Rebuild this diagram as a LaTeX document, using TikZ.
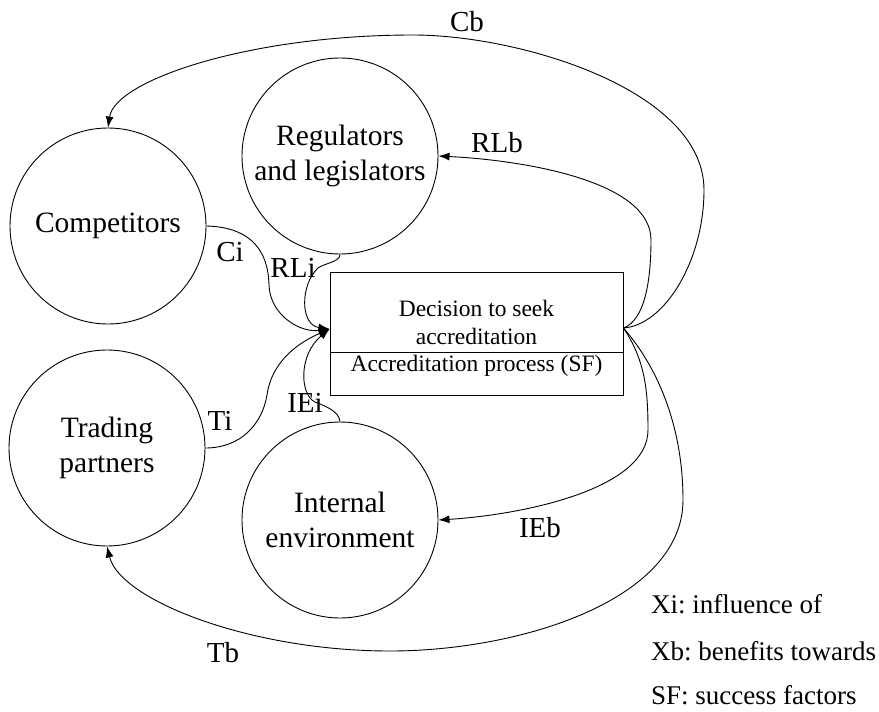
\documentclass[tikz,border=0pt]{standalone}
\usepackage{fontspec}
\setmainfont{Liberation Serif}
\usetikzlibrary{arrows.meta,positioning}
\frenchspacing

\begin{document}
\begin{tikzpicture}[x=1pt,y=1pt,yscale=-1,
  actor/.style={circle, draw, line width=0.9pt, minimum size=196pt, inner sep=0pt, align=center, font=\fontsize{29.5}{35}\selectfont},
  lbl/.style={inner sep=0.75pt, font=\fontsize{29}{34}\selectfont},
  boxtxt/.style={inner sep=0pt, align=center, font=\fontsize{23.5}{28}\selectfont},
  link/.style={line width=0.9pt, -{Latex[length=11pt,width=8pt]}},
  key/.style={anchor=west, inner sep=0pt, font=\fontsize{27}{30}\selectfont}]
\useasboundingbox (0,0) rectangle (879,712);

%Shape: Circle
\node [actor] (comp) at (108,226) {Competitors};
%Shape: Circle
\node [actor] (regl) at (340,156) {Regulators\\and legislators};
%Shape: Circle
\node [actor] (trad) at (107,448) {Trading\\partners};
%Shape: Circle
\node [actor] (intl) at (340,520) {Internal\\environment};

%Shape: Rectangle
\node [draw, line width=0.9pt, minimum width=293pt, minimum height=123pt, inner sep=0pt] (box) at (476.5,333.5) {};
%Straight Lines
\draw [line width=0.9pt] (box.west |- 0,352) -- (box.east |- 0,352);
\coordinate (in) at ([yshift=-4.5pt]box.west);
\coordinate (out) at ([yshift=-5.5pt]box.east);

% Text Node
\node [boxtxt] (dec) at (476.5,322) {Decision to seek\\accreditation};
% Text Node
\node [boxtxt] (proc) at (476.5,366) {Accreditation process (SF)};

%Curve Lines
\draw [link] (comp.east) .. controls (245,227) and (268,245) .. (269,285) .. controls (270,315) and (300,333) .. (in);
%Curve Lines
\draw [link] (regl.south) .. controls (340,262) and (325,263) .. (318,268) .. controls (300,285) and (300,325) .. (in);
%Curve Lines
\draw [link] (trad.east) .. controls (240,448) and (262,425) .. (267,395) .. controls (272,360) and (300,342) .. (in);
%Curve Lines
\draw [link] (intl.north) .. controls (339,412) and (328,407) .. (315,402) .. controls (300,395) and (298,355) .. (in);

%Curve Lines
\draw [link] (out) .. controls (665,325) and (704,260) .. (704,190) .. controls (704,90) and (520,35) .. (413,35) .. controls (250,35) and (115,80) .. (comp.north);
%Curve Lines
\draw [link] (out) .. controls (645,320) and (651,280) .. (651,240) .. controls (651,180) and (520,160) .. (regl.east);
%Curve Lines
\draw [link] (out) .. controls (645,360) and (648,390) .. (648,430) .. controls (648,490) and (520,515) .. (intl.east);
%Curve Lines
\draw [link] (out) .. controls (660,370) and (683,430) .. (683,500) .. controls (683,600) and (520,651) .. (390,651) .. controls (250,651) and (120,600) .. (trad.south);

% Text Node
\node [lbl] (cb) at (467,22) {Cb};
% Text Node
\node [lbl] (rlb) at (497,143) {RLb};
% Text Node
\node [lbl] (ci) at (230,252) {Ci};
% Text Node
\node [lbl] (rli) at (293,268) {RLi};
% Text Node
\node [lbl] (ti) at (220,421) {Ti};
% Text Node
\node [lbl] (iei) at (305,403) {IEi};
% Text Node
\node [lbl] (ieb) at (540,528) {IEb};
% Text Node
\node [lbl] (tb) at (223,653) {Tb};

% Text Node
\node [key] (xi) at (651,604) {Xi: influence of};
% Text Node
\node [key] (xb) at (651,651) {Xb: benefits towards};
% Text Node
\node [key] (sf) at (651,695) {SF: success factors};

\end{tikzpicture}
\end{document}
